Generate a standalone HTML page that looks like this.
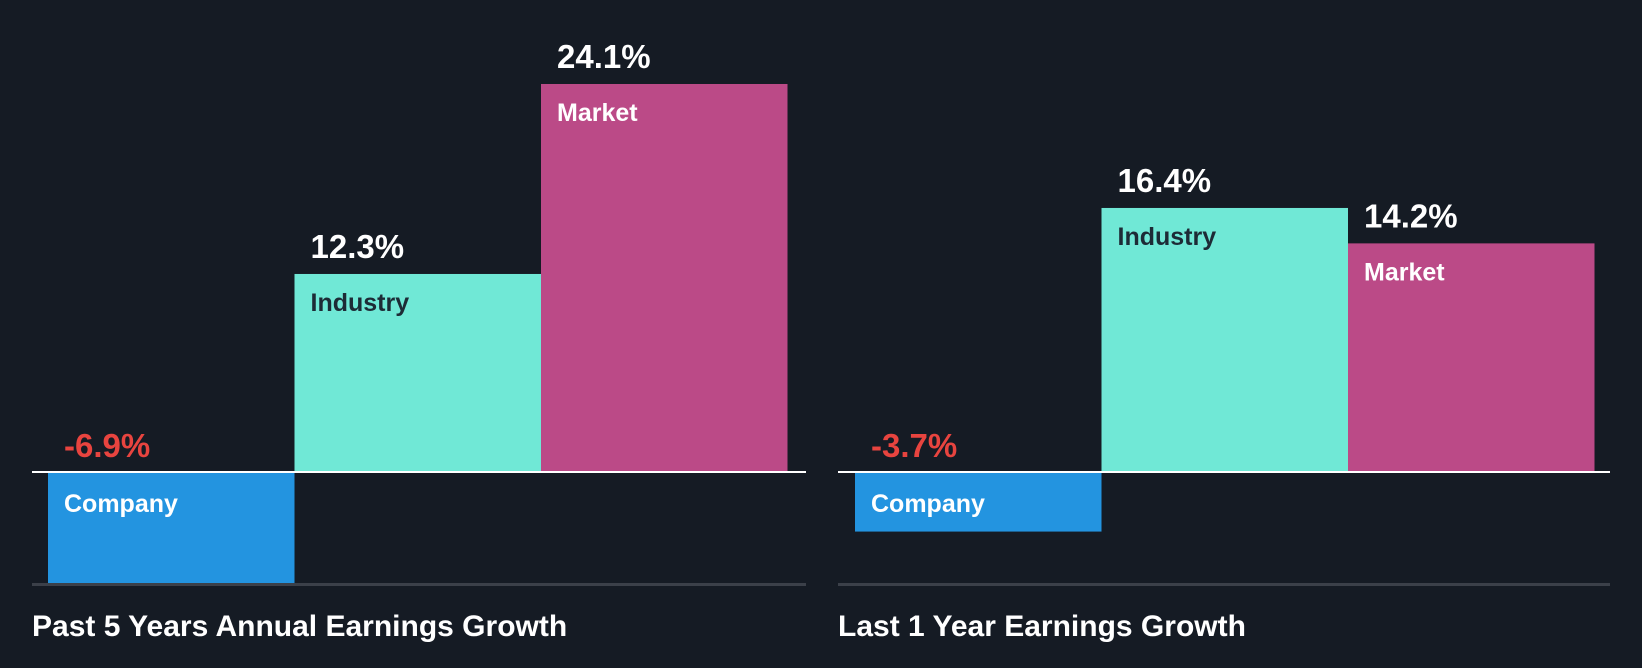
<!DOCTYPE html>
<html><head><meta charset="utf-8"><style>
html,body{margin:0;padding:0;background:#151b24;}
svg{display:block;font-family:"Liberation Sans",sans-serif;font-weight:bold;}
</style></head><body>
<svg id="chart" width="1642" height="668" viewBox="0 0 1642 668" xmlns="http://www.w3.org/2000/svg">
<rect width="1642" height="668" fill="#151b24"/>
</svg>
<script>
const categories = ["Company", "Industry", "Market"];
const pastFiveYears = [-6.9, 12.3, 24.1];
const lastOneYear = [-3.7, 16.4, 14.2];
const panelTitles = ["Past 5 Years Annual Earnings Growth", "Last 1 Year Earnings Growth"];

const NS = "http://www.w3.org/2000/svg";
const svg = document.getElementById("chart");
const colors = ["#2394e0", "#70e8d6", "#bb4a87"];
const labelColors = ["#ffffff", "#1d2b36", "#ffffff"];
const zeroY = 472, pxPer = 16.1;
function y(v){ return zeroY - v * pxPer; }
function mk(tag, attrs){ const e = document.createElementNS(NS, tag); for (const k in attrs) e.setAttribute(k, attrs[k]); svg.appendChild(e); return e; }

function panel(values, x0, x1, barX0, title, key){
  const bw = 246.5;
  values.forEach((v, i) => {
    const bx = barX0 + i * bw;
    const top = Math.min(y(v), zeroY), h = Math.abs(y(v) - zeroY);
    const r = mk("rect", {x: bx, y: top, width: bw, height: h, fill: colors[i]});
    
    
    const vl = mk("text", {x: bx + 16, y: v >= 0 ? y(v) - 16 : zeroY - 15, "font-size": 33, fill: v >= 0 ? "#ffffff" : "#e8443f"});
    vl.textContent = v.toFixed(1) + "%";
    
    
    const cl = mk("text", {x: bx + 16, y: v >= 0 ? y(v) + 37 : zeroY + 40, "font-size": 25, fill: labelColors[i]});
    cl.textContent = categories[i];
    
    
  });
  const zl = mk("rect", {x: x0, y: zeroY - 1, width: x1 - x0, height: 2, fill: "#ffffff"});
  
  
  const bl = mk("rect", {x: x0, y: 583, width: x1 - x0, height: 3, fill: "#3b4049"});
  
  
  const t = mk("text", {x: x0, y: 636, "font-size": 30, fill: "#ffffff"});
  t.textContent = title;
  
  
}
panel(pastFiveYears, 32, 806, 48, panelTitles[0], "past-5-years");
panel(lastOneYear, 838, 1610, 855, panelTitles[1], "last-1-year");
</script>
</body></html>
